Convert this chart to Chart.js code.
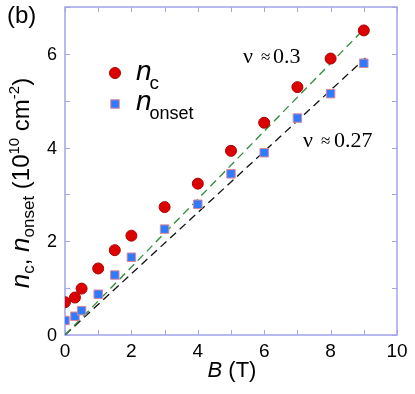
<!DOCTYPE html>
<html>
<head>
<meta charset="utf-8">
<script src="https://cdn.jsdelivr.net/npm/chart.js@4.4.0/dist/chart.umd.min.js"></script>
<style>
html,body{margin:0;padding:0;background:#fff;}
#wrap{width:415px;height:394px;position:relative;}
</style>
</head>
<body>
<div id="wrap"><canvas id="c" width="415" height="394"></canvas></div>
<script>
// ---- data ----
const bField = [0, 0.3, 0.5, 1, 1.5, 2, 3, 4, 5, 6, 7, 8, 9];
const nC     = [0.70, 0.80, 0.99, 1.42, 1.81, 2.12, 2.73, 3.23, 3.93, 4.53, 5.29, 5.90, 6.50];
const nOnset = [0.31, 0.40, 0.52, 0.87, 1.28, 1.66, 2.26, 2.79, 3.44, 3.89, 4.63, 5.15, 5.80];
const fitB    = [0, 9.05];
const fitNu03 = [0, 6.56];
const fitNu027= [0, 5.91];
const xTicks = [0,1,2,3,4,5,6,7,8,9,10];
const xLabels = [0,2,4,6,8,10];
const yTicks = [0,1,2,3,4,5,6,7];
const yLabels = [0,2,4,6];

const SANS = '"Liberation Sans", Arial, sans-serif';
const SERIF = '"Liberation Serif", "Times New Roman", serif';
const FRAME = '#a3a3ee';

function pts(xs, ys){ return xs.map((x,i)=>({x:x, y:ys[i]})); }

function richText(ctx, segs, x, y, align){
  let w = 0;
  segs.forEach(s=>{ ctx.font = s.font; w += ctx.measureText(s.t).width + (s.kern||0); });
  let cx = align==='center' ? x - w/2 : x;
  segs.forEach(s=>{
    ctx.font = s.font;
    ctx.fillText(s.t, cx, y + (s.dy||0));
    cx += ctx.measureText(s.t).width + (s.kern||0);
  });
}

const decor = {
  id:'decor',
  beforeDatasetsDraw(chart){
    const ctx = chart.ctx, a = chart.chartArea;
    const xs = chart.scales.x, ys = chart.scales.y;
    ctx.save();
    ctx.strokeStyle = FRAME; ctx.lineWidth = 1.5;
    ctx.strokeRect(a.left, a.top, a.right-a.left, a.bottom-a.top);
    ctx.beginPath();
    const L = 5;
    xTicks.forEach(v=>{
      const px = Math.round(xs.getPixelForValue(v))+0.5;
      ctx.moveTo(px, a.bottom); ctx.lineTo(px, a.bottom-L);
      ctx.moveTo(px, a.top); ctx.lineTo(px, a.top+L);
    });
    yTicks.forEach(v=>{
      const py = Math.round(ys.getPixelForValue(v))+0.5;
      ctx.moveTo(a.left, py); ctx.lineTo(a.left+L, py);
      ctx.moveTo(a.right, py); ctx.lineTo(a.right-L, py);
    });
    ctx.lineWidth = 1; ctx.stroke();
    ctx.restore();
  },
  afterDatasetsDraw(chart){
    const ctx = chart.ctx, a = chart.chartArea;
    const xs = chart.scales.x, ys = chart.scales.y;
    ctx.save();
    ctx.fillStyle = '#000';
    // tick labels
    ctx.font = '19px ' + SANS; ctx.textAlign='center'; ctx.textBaseline='alphabetic';
    xLabels.forEach(v=> ctx.fillText(String(v), xs.getPixelForValue(v), 357));
    ctx.font = '18px ' + SANS; ctx.textAlign='right'; ctx.textBaseline='middle';
    yLabels.forEach(v=> ctx.fillText(String(v), 57, ys.getPixelForValue(v)+1));
    ctx.textAlign='left'; ctx.textBaseline='alphabetic';
    // x title
    richText(ctx, [
      {t:'B', font:'italic 22px '+SANS},
      {t:' (T)', font:'22px '+SANS}
    ], 232, 377, 'center');
    // panel label
    ctx.font = '24px ' + SANS;
    ctx.fillText('(b)', 7, 23);
    // y title
    ctx.save();
    ctx.translate(29, 183);
    ctx.rotate(-Math.PI/2);
    richText(ctx, [
      {t:'n', font:'italic 26px '+SANS},
      {t:'c', font:'17px '+SANS, dy:5},
      {t:', ', font:'24px '+SANS},
      {t:'n', font:'italic 26px '+SANS},
      {t:'onset', font:'17px '+SANS, dy:5},
      {t:' (10', font:'24px '+SANS},
      {t:'10', font:'15px '+SANS, dy:-10},
      {t:' cm', font:'24px '+SANS},
      {t:'-2', font:'15px '+SANS, dy:-10},
      {t:')', font:'24px '+SANS}
    ], 0, 0, 'center');
    ctx.restore();
    // legend
    const h = Chart.helpers;
    ctx.fillStyle = '#dd0000'; ctx.strokeStyle = '#aa0000'; ctx.lineWidth = 1;
    h.drawPoint(ctx, {pointStyle:'circle', radius:5.5, rotation:0, borderWidth:1}, 115, 73);
    ctx.fillStyle = '#2f7bff'; ctx.strokeStyle = '#dd8899';
    h.drawPoint(ctx, {pointStyle:'rect', radius:6, rotation:0, borderWidth:1}, 115, 104);
    ctx.fillStyle = '#000';
    richText(ctx, [
      {t:'n', font:'italic 28px '+SANS, kern:-2},
      {t:'c', font:'19px '+SANS, dy:9}
    ], 136, 80, 'left');
    richText(ctx, [
      {t:'n', font:'italic 28px '+SANS, kern:-2},
      {t:'onset', font:'18px '+SANS, dy:9}
    ], 136, 110, 'left');
    // annotations
    ctx.font = '22px ' + SERIF;
    ctx.fillText('ν', 243, 63);
    ctx.font = '17px ' + SERIF;
    ctx.fillText('≈', 261, 62);
    ctx.font = '22px ' + SERIF;
    ctx.fillText('0.3', 273, 63);
    ctx.fillText('ν', 303, 147);
    ctx.font = '17px ' + SERIF;
    ctx.fillText('≈', 321, 146);
    ctx.font = '22px ' + SERIF;
    ctx.fillText('0.27', 334, 147);
    ctx.restore();
  }
};

new Chart(document.getElementById('c'), {
  type:'scatter',
  data:{
    datasets:[
      {label:'n_c', data:pts(bField,nC), pointStyle:'circle', pointRadius:5.5,
       backgroundColor:'#dd0000', borderColor:'#aa0000', borderWidth:1},
      {label:'n_onset', data:pts(bField,nOnset), pointStyle:'rect', pointRadius:6,
       backgroundColor:'#2f7bff', borderColor:'#dd8899', borderWidth:1},
      {label:'nu 0.3', data:pts(fitB,fitNu03), showLine:true, pointRadius:0,
       borderColor:'#2e8b3a', borderWidth:1.3, borderDash:[8,5], fill:false},
      {label:'nu 0.27', data:pts(fitB,fitNu027), showLine:true, pointRadius:0,
       borderColor:'#111111', borderWidth:1.3, borderDash:[8,5], fill:false}
    ]
  },
  options:{
    responsive:false, animation:false, devicePixelRatio:1,
    layout:{padding:{left:65, right:18, top:2, bottom:59}},
    plugins:{legend:{display:false}, tooltip:{enabled:false}},
    scales:{
      x:{type:'linear', min:0, max:10, display:false},
      y:{type:'linear', min:0, max:7, display:false}
    }
  },
  plugins:[decor]
});
</script>
</body>
</html>
